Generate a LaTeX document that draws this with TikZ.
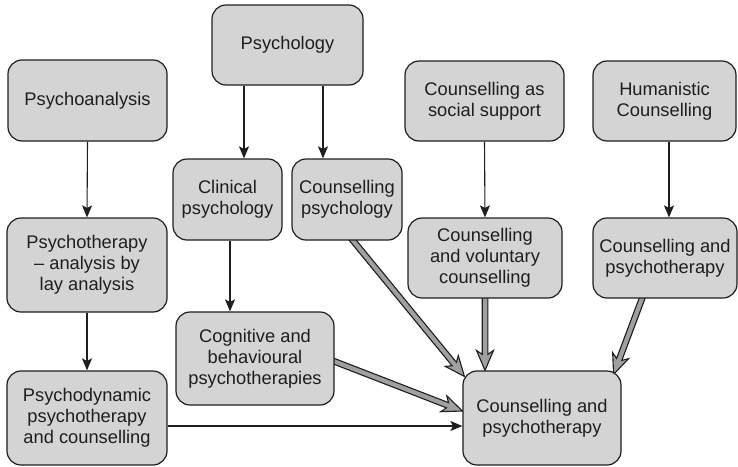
\documentclass[tikz,border=0pt]{standalone}
\usepackage{fontspec}
\setmainfont{Liberation Sans}
\usetikzlibrary{arrows.meta,calc,backgrounds}
\definecolor{boxgray}{RGB}{212,212,212}
\definecolor{fatgray}{RGB}{160,160,160}
\definecolor{ink}{RGB}{30,30,30}

\tikzset{
  box/.style={draw=ink, fill=boxgray, rounded corners=14pt, line width=1.2pt,
    align=center, inner sep=0pt, text=ink, font=\fontsize{18.3}{21}\selectfont},
  thinarrow/.style={draw=ink, line width=1.1pt,
    -{Stealth[length=12pt,width=10pt,inset=2.5pt]}},
  fatbody/.style={draw=ink, fill=fatgray, line width=1.1pt, line join=miter},
}

% broad outlined arrow from #1 to #2 (tail tucked under the source box)
\newcommand\fatlink[2]{%
  \coordinate (fa-e) at (#2);
  \coordinate (fa-t) at (#1);
  \coordinate (fa-s) at ($(fa-t)!-6pt!(fa-e)$);
  \coordinate (fa-b) at ($(fa-e)!20pt!(fa-t)$);
  \coordinate (fa-j) at ($(fa-e)!16pt!(fa-t)$);
  \draw[fatbody] ($(fa-s)!2.8pt!90:(fa-e)$) -- ($(fa-j)!2.8pt!90:(fa-e)$)
    -- ($(fa-b)!8.5pt!90:(fa-e)$) -- (fa-e) -- ($(fa-b)!8.5pt!-90:(fa-e)$)
    -- ($(fa-j)!2.8pt!-90:(fa-e)$) -- ($(fa-s)!2.8pt!-90:(fa-e)$) -- cycle;
}

\begin{document}
\begin{tikzpicture}[x=1pt,y=-1pt]
\useasboundingbox (0,0) rectangle (738,466);

% boxes
\node[box, minimum width=151pt, minimum height=80pt] (psy)  at (287.5,45)  {Psychology};
\node[box, minimum width=159pt, minimum height=81pt] (pa)   at (87.5,100.5) {Psychoanalysis};
\node[box, minimum width=159pt, minimum height=80pt] (css)  at (484.5,101) {Counselling as\\social support};
\node[box, minimum width=143pt, minimum height=80pt] (hum)  at (664.5,101) {Humanistic\\Counselling};
\node[box, minimum width=109pt, minimum height=81pt] (clin) at (227.5,199.5) {Clinical\\psychology};
\node[box, minimum width=110pt, minimum height=81pt] (cpsy) at (347,199.5) {Counselling\\psychology};
\node[box, minimum width=160pt, minimum height=94pt] (lay)  at (87,265) {Psychotherapy\\– analysis by\\lay analysis};
\node[box, minimum width=154pt, minimum height=80pt] (vol)  at (485,258) {Counselling\\and voluntary\\counselling};
\node[box, minimum width=144pt, minimum height=80pt] (cp2)  at (665,258) {Counselling and\\psychotherapy};
\node[box, minimum width=158pt, minimum height=93pt] (cog)  at (255,358.5) {Cognitive and\\behavioural\\psychotherapies};
\node[box, minimum width=160pt, minimum height=94pt] (pd)   at (87,418) {Psychodynamic\\psychotherapy\\and counselling};
\node[box, minimum width=158pt, minimum height=94pt] (cp)   at (542,418) {Counselling and\\psychotherapy};

% thin connectors
\draw[thinarrow] (pa.south) -- (lay.north);
\draw[thinarrow] (lay.south) -- (pd.north);
\draw[thinarrow] (psy.south -| 244,0) -- (clin.north -| 244,0);
\draw[thinarrow] (psy.south -| 323,0) -- (cpsy.north -| 323,0);
\draw[thinarrow] (clin.south -| 230,0) -- (cog.north -| 230,0);
\draw[thinarrow] (css.south) -- (vol.north);
\draw[thinarrow] (hum.south -| 669,0) -- (cp2.north -| 669,0);
\draw[thinarrow] ($(pd.east)+(0,8)$) -- ($(cp.west)+(0,8)$);

% broad connectors into the lower box
\begin{scope}[on background layer]
  \fatlink{cpsy.south -| 353,0}{$(cp.north west)+(2,6)$}
  \fatlink{vol.south}{cp.north -| vol.south}
  \fatlink{cp2.south -| 642,0}{$(cp.north east)+(-8,4)$}
  \fatlink{$(cog.east)+(0,3)$}{$(cp.west)+(0,-7)$}
\end{scope}
\end{tikzpicture}
\end{document}
